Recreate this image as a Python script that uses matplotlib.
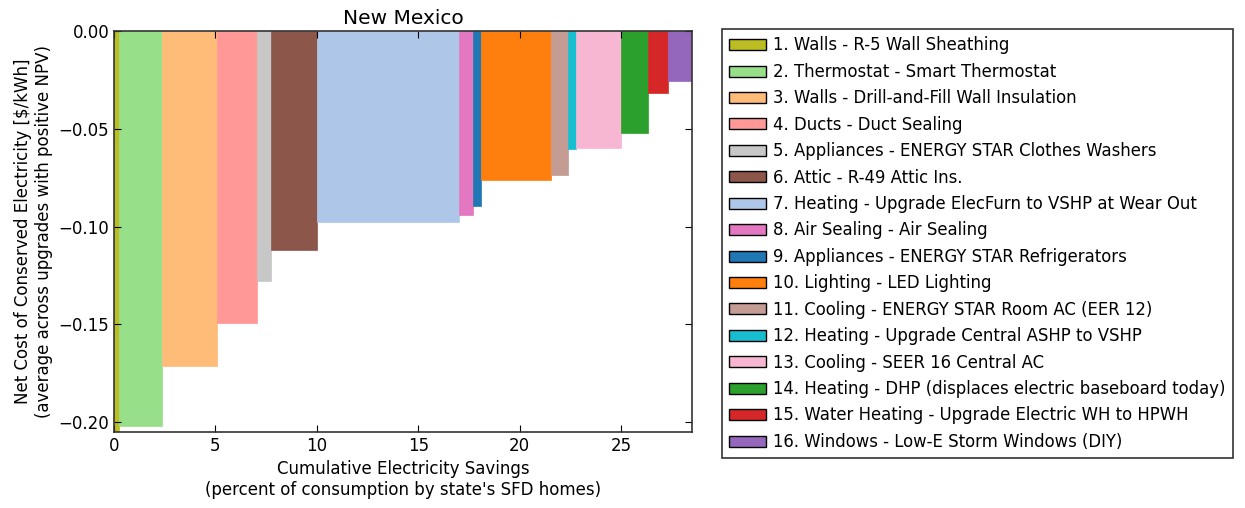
import numpy as np
import matplotlib
matplotlib.use("Agg")
import matplotlib.pyplot as plt

labels = [
    "1. Walls - R-5 Wall Sheathing",
    "2. Thermostat - Smart Thermostat",
    "3. Walls - Drill-and-Fill Wall Insulation",
    "4. Ducts - Duct Sealing",
    "5. Appliances - ENERGY STAR Clothes Washers",
    "6. Attic - R-49 Attic Ins.",
    "7. Heating - Upgrade ElecFurn to VSHP at Wear Out",
    "8. Air Sealing - Air Sealing",
    "9. Appliances - ENERGY STAR Refrigerators",
    "10. Lighting - LED Lighting",
    "11. Cooling - ENERGY STAR Room AC (EER 12)",
    "12. Heating - Upgrade Central ASHP to VSHP",
    "13. Cooling - SEER 16 Central AC",
    "14. Heating - DHP (displaces electric baseboard today)",
    "15. Water Heating - Upgrade Electric WH to HPWH",
    "16. Windows - Low-E Storm Windows (DIY)",
]

# savings per upgrade (percent of consumption) and net cost ($/kWh)
savings = [0.25, 2.12, 2.71, 1.96, 0.69, 2.28, 7.01, 0.69, 0.39,
           3.44, 0.84, 0.39, 2.24, 1.32, 1.01, 1.16]
cost = [-0.215, -0.202, -0.1714, -0.1493, -0.128, -0.1122, -0.0977, -0.0941,
        -0.0895, -0.0763, -0.0737, -0.0601, -0.0596, -0.0524, -0.0318, -0.0255]

colors = ["#bcbd22", "#98df8a", "#ffbb78", "#ff9896", "#c7c7c7", "#8c564b",
          "#aec7e8", "#e377c2", "#1f77b4", "#ff7f0e", "#c49c94", "#17becf",
          "#f7b6d2", "#2ca02c", "#d62728", "#9467bd"]

left = np.concatenate([[0], np.cumsum(savings)[:-1]])

fig = plt.figure(figsize=(12.45, 5.08), dpi=100)
ax = fig.add_axes([114 / 1245, 1 - 432 / 508, 578 / 1245, 401 / 508])

handles = []
for x0, w, c, col, lab in zip(left, savings, cost, colors, labels):
    ax.bar(x0, c, width=w, align="edge", color=col, edgecolor=col,
           linewidth=0.5, label=lab)
    handles.append(plt.Rectangle((0, 0), 1, 1, facecolor=col,
                                 edgecolor="black", linewidth=1))

ax.set_xlim(0, np.sum(savings))
ax.set_ylim(-0.205, 0.0)
ax.set_yticks([0.0, -0.05, -0.10, -0.15, -0.20])
ax.set_xticks([0, 5, 10, 15, 20, 25])
ax.tick_params(direction="in", top=True, right=True, labelsize=12, length=5)
for s in ax.spines.values():
    s.set_linewidth(1.2)
    s.set_color("#333333")

ax.set_title("New Mexico", fontsize=14.5, pad=5)
ax.set_xlabel("Cumulative Electricity Savings\n(percent of consumption by state's SFD homes)",
              fontsize=12, labelpad=4)
ax.set_ylabel("Net Cost of Conserved Electricity [$/kWh]\n(average across upgrades with positive NPV)",
              fontsize=12, labelpad=4)

leg = fig.legend(handles, labels, loc="upper left",
                 bbox_to_anchor=(722 / 1245, 1 - 29 / 508),
                 fontsize=11.9, fancybox=False, edgecolor="black",
                 handlelength=2.2, handleheight=0.65, labelspacing=0.51,
                 borderpad=0.45, handletextpad=0.45, borderaxespad=0)
leg.get_frame().set_linewidth(1.2)

fig.savefig("out.png", dpi=100)
